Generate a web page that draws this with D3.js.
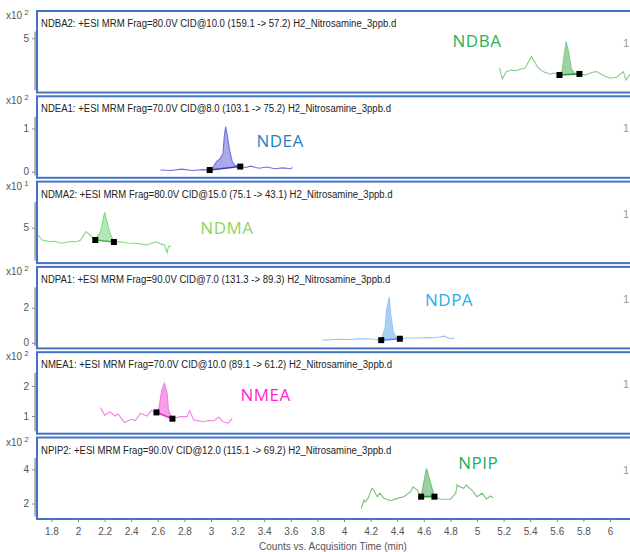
<!DOCTYPE html>
<html>
<head>
<meta charset="UTF-8">
<title>Nitrosamine MRM chromatograms</title>
<script src="https://cdn.jsdelivr.net/npm/d3@7"></script>
<style>
  body { margin: 0; background: #fff; }
  svg { display: block; font-family: "Liberation Sans", Arial, sans-serif; }
  .tick text { fill: #555; font-size: 10px; }
  .tick line { stroke: #888; }
</style>
</head>
<body>
<svg id="chart" width="630" height="552"></svg>
<script>
// compounds, one panel each (top to bottom)
var compounds = ["NDBA", "NDEA", "NDMA", "NDPA", "NMEA", "NPIP"];
var headers = [
  "NDBA2: +ESI MRM Frag=80.0V CID@10.0 (159.1 -> 57.2) H2_Nitrosamine_3ppb.d",
  "NDEA1: +ESI MRM Frag=70.0V CID@8.0 (103.1 -> 75.2) H2_Nitrosamine_3ppb.d",
  "NDMA2: +ESI MRM Frag=80.0V CID@15.0 (75.1 -> 43.1) H2_Nitrosamine_3ppb.d",
  "NDPA1: +ESI MRM Frag=90.0V CID@7.0 (131.3 -> 89.3) H2_Nitrosamine_3ppb.d",
  "NMEA1: +ESI MRM Frag=70.0V CID@10.0 (89.1 -> 61.2) H2_Nitrosamine_3ppb.d",
  "NPIP2: +ESI MRM Frag=90.0V CID@12.0 (115.1 -> 69.2) H2_Nitrosamine_3ppb.d"
];
var exponents = [2, 2, 1, 2, 2, 2];
var yTicks = [[5], [0, 1], [5], [0, 2], [1, 2], [2, 4]];
var yDomains = [[0.73, 5.61], [-0.07, 1.28], [1.4, 7.9], [-0.15, 3.19], [0.51, 2.46], [1.27, 4.69]];
var xTicks = [1.8, 2, 2.2, 2.4, 2.6, 2.8, 3, 3.2, 3.4, 3.6, 3.8, 4, 4.2, 4.4, 4.6, 4.8, 5, 5.2, 5.4, 5.6, 5.8, 6];

// [time (min), counts]
var traceNDBA = [[5.17,2.53],[5.19,1.61],[5.22,2.22],[5.26,2.35],[5.3,2.3],[5.32,2.42],[5.36,2.5],[5.41,3.47],[5.46,2.53],[5.5,2.2],[5.55,2.0],[5.58,2.1],[5.62,1.94],[5.64,2.3],[5.66,4.0],[5.67,4.72],[5.69,3.8],[5.71,2.4],[5.74,2.05],[5.77,2.03],[5.82,1.94],[5.86,2.15],[5.9,2.22],[5.95,1.9],[6.0,1.67],[6.05,1.75],[6.1,2.22],[6.12,1.53],[6.15,2.0]];
var traceNDEA = [[2.62,0.04],[2.7,0.03],[2.78,0.06],[2.86,0.03],[2.94,0.05],[2.99,0.04],[3.02,0.12],[3.04,0.23],[3.07,0.31],[3.09,0.42],[3.1,0.81],[3.11,1.04],[3.12,0.88],[3.14,0.5],[3.16,0.23],[3.18,0.15],[3.22,0.12],[3.26,0.1],[3.3,0.13],[3.36,0.08],[3.42,0.11],[3.48,0.07],[3.54,0.09],[3.6,0.07],[3.61,0.1]];
var traceNDMA = [[1.7,4.19],[1.73,3.63],[1.79,3.44],[1.83,3.5],[1.87,3.27],[1.94,3.44],[2.0,3.5],[2.02,3.63],[2.06,4.56],[2.09,4.19],[2.13,3.63],[2.17,4.6],[2.2,6.71],[2.24,4.38],[2.27,3.41],[2.32,3.44],[2.37,3.3],[2.42,3.27],[2.47,3.2],[2.52,3.08],[2.56,3.3],[2.59,3.44],[2.62,3.2],[2.65,3.08],[2.67,2.22],[2.68,2.89],[2.7,2.97]];
var traceNDPA = [[3.84,0.15],[3.9,0.17],[3.96,0.2],[4.05,0.19],[4.1,0.22],[4.17,0.23],[4.22,0.2],[4.25,0.19],[4.28,0.15],[4.31,0.91],[4.32,1.87],[4.34,2.59],[4.35,1.68],[4.37,0.63],[4.39,0.31],[4.42,0.23],[4.48,0.27],[4.55,0.27],[4.62,0.3],[4.67,0.29],[4.72,0.33],[4.75,0.38],[4.8,0.23],[4.83,0.29]];
var traceNMEA = [[2.17,1.28],[2.2,1.03],[2.24,1.14],[2.28,1.0],[2.3,1.07],[2.35,0.78],[2.4,0.89],[2.43,0.85],[2.47,1.09],[2.52,1.0],[2.55,1.18],[2.59,1.12],[2.61,1.31],[2.63,1.87],[2.65,2.09],[2.67,1.76],[2.68,1.2],[2.71,0.91],[2.77,0.98],[2.82,0.98],[2.84,1.18],[2.87,0.87],[2.94,0.81],[2.98,0.85],[3.02,0.84],[3.06,0.96],[3.09,0.81],[3.13,0.76],[3.16,0.92]];
var traceNPIP = [[4.13,1.72],[4.15,2.2],[4.16,2.1],[4.18,2.3],[4.21,2.89],[4.22,2.83],[4.25,2.4],[4.27,2.6],[4.3,2.3],[4.35,2.16],[4.4,2.3],[4.45,2.4],[4.5,2.69],[4.52,2.98],[4.55,2.79],[4.58,2.4],[4.62,4.06],[4.68,2.4],[4.72,2.26],[4.8,2.25],[4.84,2.6],[4.85,3.08],[4.87,2.98],[4.9,2.89],[4.92,3.08],[4.96,2.79],[5.0,2.4],[5.04,2.6],[5.07,2.26],[5.1,2.44],[5.12,2.34]];
var traces = [traceNDBA, traceNDEA, traceNDMA, traceNDPA, traceNMEA, traceNPIP];
// integration start / end times
var peakWindows = [[5.62, 5.77], [2.99, 3.22], [2.13, 2.27], [4.28, 4.42], [2.59, 2.71], [4.58, 4.68]];

// look
var labelColors = ["#2bb05a", "#1f7fc9", "#8fd45e", "#25aeea", "#ff1fd0", "#23ad59"];
var lineColors  = ["#86cc86", "#7070dc", "#7ddc7d", "#93c7f2", "#f27fe6", "#72c272"];
var fillColors  = ["rgba(60,165,80,0.5)", "rgba(100,100,215,0.55)", "rgba(110,210,110,0.5)", "rgba(100,170,240,0.55)", "rgba(240,80,210,0.55)", "rgba(60,160,80,0.5)"];
var baseColors  = ["#2f9a45", "#3a3ac0", "#45b845", "#4a90dd", "#d830c0", "#2f9a45"];
// label spots: [time, px below panel top]
var labelSpots = [[5.0, 29], [3.52, 44], [3.12, 46], [4.79, 33], [3.41, 42], [5.01, 25]];

var svg = d3.select("#chart");
var panelTop0 = 11, pitch = 85.3, panelH = 81.5, left = 37;

var x = d3.scaleLinear().domain([2, 6]).range([78, 610]);

compounds.forEach(function (name, i) {
    var top = panelTop0 + i * pitch;
    var bottom = top + panelH;
    var y = d3.scaleLinear().domain(yDomains[i]).range([bottom - 3, top + 20]);
    var g = svg.append("g");

    g.append("clipPath").attr("id", "clip" + i)
        .append("rect").attr("x", left + 1).attr("y", top + 1).attr("width", 640 - left).attr("height", panelH - 2);

    // y axis
    var ax = g.append("g").attr("transform", "translate(35,0)")
        .call(d3.axisLeft(y).tickValues(yTicks[i]).tickSize(3).tickPadding(3).tickSizeOuter(0).tickFormat(d3.format("d")));
    ax.select(".domain").attr("stroke", "#a8a8a8").attr("stroke-width", 2.5);

    // panel frame
    g.append("rect").attr("x", left).attr("y", top).attr("width", 640 - left).attr("height", panelH)
        .attr("fill", "#fff").attr("stroke", "#4472c4").attr("stroke-width", 2);

    g.append("text").attr("transform", "translate(41," + (top + 16) + ") scale(0.87,1)")
        .attr("fill", "#222").style("font-size", "11px").text(headers[i]);

    g.append("text").attr("x", 623).attr("y", top + 36).attr("fill", "#999").style("font-size", "11px").text("1");

    g.append("text").attr("x", x(labelSpots[i][0])).attr("y", top + labelSpots[i][1])
        .attr("text-anchor", "middle").attr("dominant-baseline", "central")
        .attr("fill", labelColors[i]).style("font-family", "'Open Sans', sans-serif").style("font-size", "17px")
        .style("letter-spacing", "0.5px").text(name);

    var plot = g.append("g").attr("clip-path", "url(#clip" + i + ")");
    var tr = traces[i];
    var w = peakWindows[i];
    var p0 = tr.find(function (d) { return d[0] === w[0]; });
    var p1 = tr.find(function (d) { return d[0] === w[1]; });
    var base = d3.scaleLinear().domain([p0[0], p1[0]]).range([p0[1], p1[1]]);
    var peak = tr.filter(function (d) { return d[0] >= w[0] && d[0] <= w[1]; });

    plot.append("path").datum(peak)
        .attr("fill", fillColors[i])
        .attr("d", d3.area().x(function (d) { return x(d[0]); })
            .y0(function (d) { return y(base(d[0])); })
            .y1(function (d) { return y(d[1]); }));

    plot.append("path").datum(tr)
        .attr("fill", "none").attr("stroke", lineColors[i]).attr("stroke-width", 1.1)
        .attr("d", d3.line().x(function (d) { return x(d[0]); }).y(function (d) { return y(d[1]); }));

    plot.append("line")
        .attr("x1", x(p0[0])).attr("y1", y(p0[1])).attr("x2", x(p1[0])).attr("y2", y(p1[1]))
        .attr("stroke", baseColors[i]).attr("stroke-width", 1.6);

    plot.selectAll("rect.mk").data([p0, p1]).enter().append("rect").attr("class", "mk")
        .attr("x", function (d) { return x(d[0]) - 3; }).attr("y", function (d) { return y(d[1]) - 3; })
        .attr("width", 6).attr("height", 6).attr("fill", "#000");
});

// "x10^n" multipliers beside each panel's top corner
var ex = svg.append("g").selectAll("text").data(exponents).enter().append("text")
    .attr("x", 6).attr("y", function (d, i) { return panelTop0 + i * pitch + 8; })
    .attr("fill", "#555").style("font-size", "10px").text("x10");
ex.append("tspan").attr("dx", 2).attr("dy", -4).style("font-size", "8px").text(function (d) { return d; });

// x axis under the last panel
var xa = svg.append("g").attr("transform", "translate(0," + (panelTop0 + 5 * pitch + panelH) + ")")
    .call(d3.axisBottom(x).tickValues(xTicks).tickSize(3).tickPadding(6).tickSizeOuter(0)
        .tickFormat(function (d) { return String(+d.toFixed(1)); }));
xa.select(".domain").remove();

svg.append("text").attr("x", 333).attr("y", 550).attr("text-anchor", "middle")
    .attr("fill", "#555").style("font-size", "10px").text("Counts vs. Acquisition Time (min)");
</script>
</body>
</html>
